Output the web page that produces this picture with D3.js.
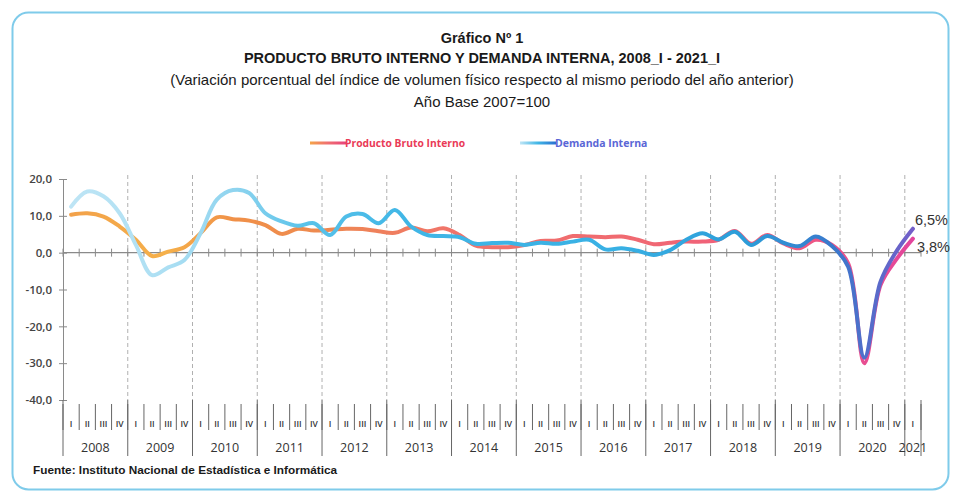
<!DOCTYPE html>
<html lang="es">
<head>
<meta charset="UTF-8">
<title>Gráfico Nº 1</title>
<script src="https://d3js.org/d3.v7.min.js"></script>
<style>
  html, body { margin: 0; padding: 0; background: #fff; }
  svg { display: block; }
  .narrow { font-family: "Liberation Sans Narrow", "Arial Narrow", "Liberation Sans", sans-serif; }
  .calib { font-family: "Open Sans", "Noto Sans", sans-serif; }
</style>
</head>
<body>
<div id="chart"></div>
<script>
// --- data ---
const years = [2008, 2009, 2010, 2011, 2012, 2013, 2014, 2015, 2016, 2017, 2018, 2019, 2020, 2021];
const quarterNames = ["I", "II", "III", "IV"];
const yTicks = [20, 10, 0, -10, -20, -30, -40];

// Producto Bruto Interno, % var. trimestral interanual
const pbi = [10.3, 10.7, 9.8, 7.1,   3.5, -0.9, 0.3, 1.5,   5.3, 9.6, 9.1, 8.7,
             7.5, 5.1, 6.5, 6.0,     6.2, 6.5, 6.4, 5.8,    5.4, 6.8, 5.8, 6.6,
             4.8, 1.9, 1.5, 1.5,     2.1, 3.2, 3.3, 4.5,    4.4, 4.2, 4.4, 3.5,
             2.3, 2.7, 3.0, 3.0,     3.5, 5.9, 2.4, 4.8,    2.5, 1.2, 3.5, 2.1,
             -2.9, -30.0, -8.8, -1.7, 3.8];
// Demanda Interna
const di = [12.5, 16.6, 15.3, 10.7,  2.1, -6.1, -4.0, -2.0,  5.3, 14.4, 17.0, 16.2,
            10.7, 8.5, 7.3, 8.0,     4.8, 9.8, 10.5, 8.0,    11.6, 7.1, 4.8, 4.5,
            4.2, 2.4, 2.6, 2.7,      2.1, 2.7, 2.4, 3.0,     3.5, 0.9, 1.2, 0.5,
            -0.6, 0.7, 3.5, 5.3,     3.6, 5.7, 2.1, 4.5,     2.7, 1.8, 4.4, 1.8,
            -3.8, -28.5, -7.9, 0.5, 6.5];

const periods = [];
years.forEach(y => quarterNames.forEach((q, i) => {
    if (periods.length < pbi.length) periods.push({year: y, q: q, key: y + "_" + q, first: i === 0});
}));

const W = 953, H = 495;
const x0 = 63, x1 = 921, yTop = 179, yBot = 400;

const svg = d3.select("#chart").append("svg")
    .attr("width", W).attr("height", H);

// frame
svg.append("rect")
    .attr("x", 12.5).attr("y", 12.5)
    .attr("width", 936).attr("height", 477)
    .attr("rx", 16)
    .attr("fill", "none")
    .attr("stroke", "#7fcbea")
    .attr("stroke-width", 2);

// titles
const titles = [
    {t: "Gráfico Nº 1", y: 43, bold: true, size: 14.5},
    {t: "PRODUCTO BRUTO INTERNO Y DEMANDA INTERNA, 2008_I - 2021_I", y: 63, bold: true, size: 14.5},
    {t: "(Variación porcentual del índice de volumen físico respecto al mismo periodo del año anterior)", y: 85, bold: false, size: 15},
    {t: "Año Base 2007=100", y: 107, bold: false, size: 15}
];
svg.selectAll(".title").data(titles).enter().append("text")
    .attr("class", "title narrow")
    .attr("x", 482).attr("y", d => d.y)
    .attr("text-anchor", "middle")
    .attr("font-size", d => d.size)
    .attr("font-weight", d => d.bold ? "bold" : "normal")
    .attr("fill", "#1a1a1a")
    .text(d => d.t);

// scales
const x = d3.scaleBand().domain(periods.map(d => d.key)).range([x0, x1]).padding(0);
const y = d3.scaleLinear().domain([-40, 20]).range([yBot, yTop]);
const cx = k => x(k) + x.bandwidth() / 2;

// gradients
const defs = svg.append("defs");
function grad(id, stops, gx1, gx2) {
    const g = defs.append("linearGradient").attr("id", id)
        .attr("gradientUnits", "userSpaceOnUse")
        .attr("x1", gx1).attr("x2", gx2).attr("y1", 0).attr("y2", 0);
    stops.forEach(s => g.append("stop").attr("offset", s[0]).attr("stop-color", s[1]));
}
const pbiStops = [[0, "#f2a04a"], [0.12, "#f5b04a"], [0.2, "#f09048"], [0.3, "#ee8a50"],
    [0.45, "#f0746a"], [0.65, "#f06a70"], [0.85, "#f05a80"], [1, "#e2449e"]];
const diStops = [[0, "#bfe5f5"], [0.12, "#acdff3"], [0.2, "#8fd4ef"], [0.28, "#5ac3ea"],
    [0.4, "#40b6e6"], [0.65, "#38b0e4"], [0.8, "#2c9cd8"], [0.9, "#3a78cc"], [1, "#7a5cc8"]];
grad("gPbi", pbiStops, x0, x1);
grad("gDi", diStops, x0, x1);
grad("gPbiLeg", [[0, "#f4a448"], [0.5, "#f07070"], [1, "#e8447a"]], 310, 345);
grad("gDiLeg", [[0, "#bfe5f5"], [0.5, "#40b6e6"], [1, "#2a6fd0"]], 520, 556);

// year dashed gridlines
svg.append("g").selectAll("line")
    .data(periods.filter(d => d.first && d.year > 2008))
    .enter().append("line")
    .attr("x1", d => x(d.key)).attr("x2", d => x(d.key))
    .attr("y1", yTop - 4).attr("y2", yBot)
    .attr("stroke", "#b0b0b0")
    .attr("stroke-width", 1)
    .attr("stroke-dasharray", "4,3");

// y axis
const yAxis = svg.append("g").attr("transform", `translate(${x0},0)`)
    .call(d3.axisLeft(y).tickValues(yTicks).tickSize(4)
        .tickFormat(d => d3.format(".1f")(d).replace(".", ",").replace("−", "-")));
yAxis.select(".domain").attr("stroke", "#8a8a8a");
yAxis.selectAll(".tick line").attr("stroke", "#8a8a8a").attr("x2", 4).attr("x1", -4);
yAxis.selectAll(".tick text")
    .attr("class", "calib")
    .attr("x", -11)
    .attr("font-size", 11.5)
    .attr("font-weight", 600)
    .attr("fill", "#444");

// zero line with quarter ticks
const zero = svg.append("g").attr("transform", `translate(0,${y(0)})`);
zero.append("line").attr("x1", x0).attr("x2", x1)
    .attr("stroke", "#8a8a8a").attr("stroke-width", 1.2);
zero.selectAll(".qt").data(periods.map(d => x(d.key)).concat([x1]))
    .enter().append("line")
    .attr("x1", d => d).attr("x2", d => d)
    .attr("y1", -4).attr("y2", 4)
    .attr("stroke", "#8a8a8a");

// category table below the plot
const table = svg.append("g");
table.selectAll(".qsep").data(periods.map(d => x(d.key)).concat([x1]))
    .enter().append("line")
    .attr("x1", d => d).attr("x2", d => d)
    .attr("y1", 404).attr("y2", 430)
    .attr("stroke", "#666").attr("stroke-width", 1);
table.selectAll(".ysep").data(periods.filter(d => d.first).map(d => x(d.key)).concat([x1]))
    .enter().append("line")
    .attr("x1", d => d).attr("x2", d => d)
    .attr("y1", 400).attr("y2", 456)
    .attr("stroke", "#666").attr("stroke-width", 1);
table.selectAll(".qlab").data(periods)
    .enter().append("text")
    .attr("class", "calib")
    .attr("x", d => cx(d.key)).attr("y", 427)
    .attr("text-anchor", "middle")
    .attr("font-size", 8.5)
    .attr("font-weight", 600)
    .attr("fill", "#333")
    .text(d => d.q);
const yearGroups = d3.groups(periods, d => d.year);
table.selectAll(".ylab").data(yearGroups)
    .enter().append("text")
    .attr("class", "calib")
    .attr("x", d => (x(d[1][0].key) + x(d[1][d[1].length - 1].key) + x.bandwidth()) / 2)
    .attr("y", 452)
    .attr("text-anchor", "middle")
    .attr("font-size", 12.5)
    .attr("fill", "#333")
    .text(d => d[0]);

// lines
const line = d3.line()
    .x((d, i) => cx(periods[i].key))
    .y(d => y(d))
    .curve(d3.curveCatmullRom.alpha(0.5));

svg.append("path").datum(pbi)
    .attr("d", line)
    .attr("fill", "none")
    .attr("stroke", "url(#gPbi)")
    .attr("stroke-width", 4)
    .attr("stroke-linecap", "round")
    .attr("stroke-linejoin", "round");

svg.append("path").datum(di)
    .attr("d", line)
    .attr("fill", "none")
    .attr("stroke", "url(#gDi)")
    .attr("stroke-width", 4)
    .attr("stroke-linecap", "round")
    .attr("stroke-linejoin", "round");

// end labels
const last = periods.length - 1;
const fmtPct = v => d3.format(".1f")(v).replace(".", ",") + "%";
svg.append("text")
    .attr("font-family", "Liberation Sans, Arial, sans-serif")
    .attr("x", cx(periods[last].key) + 2).attr("y", y(di[last]) - 4)
    .attr("font-size", 14.5).attr("fill", "#333")
    .text(fmtPct(di[last]));
svg.append("text")
    .attr("font-family", "Liberation Sans, Arial, sans-serif")
    .attr("x", cx(periods[last].key) + 4).attr("y", y(pbi[last]) + 13)
    .attr("font-size", 14.5).attr("fill", "#333")
    .text(fmtPct(pbi[last]));

// legend
const legend = [
    {name: "Producto Bruto Interno", grad: "url(#gPbiLeg)", color: "#ea3b57", lx: 310, fs: 10.3},
    {name: "Demanda Interna", grad: "url(#gDiLeg)", color: "#5a66d6", lx: 520, fs: 10.5}
];
const lg = svg.append("g").selectAll("g").data(legend).enter().append("g");
lg.append("line")
    .attr("x1", d => d.lx).attr("x2", d => d.lx + 36)
    .attr("y1", 143).attr("y2", 143)
    .attr("stroke", d => d.grad).attr("stroke-width", 3);
lg.append("text")
    .attr("class", "calib")
    .attr("x", d => d.lx + 35).attr("y", 146.5)
    .attr("font-size", d => d.fs)
    .attr("font-weight", "bold")
    .attr("fill", d => d.color)
    .text(d => d.name);

// source
svg.append("text")
    .attr("class", "narrow")
    .attr("x", 33).attr("y", 474)
    .attr("font-size", 11.8)
    .attr("font-weight", "bold")
    .attr("fill", "#1a1a1a")
    .text("Fuente: Instituto Nacional de Estadística e Informática");
</script>
</body>
</html>
